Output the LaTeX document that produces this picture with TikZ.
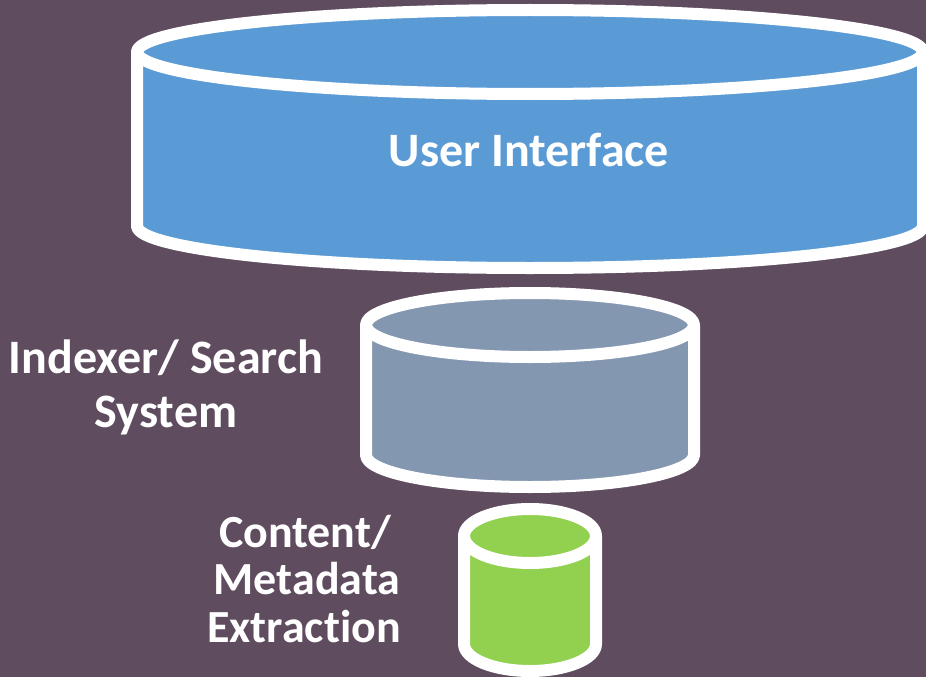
\documentclass[tikz,border=0pt]{standalone}
\usepackage{fontspec}
\setmainfont{Carlito}[Ligatures={NoCommon}]
\definecolor{bg}{HTML}{5F4C5F}
\definecolor{uiblue}{HTML}{5B9BD5}
\definecolor{idxgray}{HTML}{8497B0}
\definecolor{extgreen}{HTML}{92D050}
\tikzset{
  cylline/.style={draw=white,line width=12pt,line join=round},
  lbl/.style={text=white,font=\bfseries,anchor=base,inner sep=0pt},
}
\newcommand\mycyl[6]{%
  \fill[#6] (#1-#4,#2) -- (#1-#4,#3) arc[start angle=180,end angle=360,x radius=#4pt,y radius=#5pt]
     -- (#1+#4,#2) arc[start angle=0,end angle=180,x radius=#4pt,y radius=#5pt] -- cycle;
  \draw[cylline] (#1-#4,#2) -- (#1-#4,#3) arc[start angle=180,end angle=360,x radius=#4pt,y radius=#5pt] -- (#1+#4,#2);
  \draw[cylline] (#1,#2) ellipse [x radius=#4pt, y radius=#5pt];
}
\begin{document}
\begin{tikzpicture}[x=1pt,y=-1pt]
\fill[bg] (0,0) rectangle (926,677);
\useasboundingbox (0,0) rectangle (926,677);
\mycyl{530}{52}{226}{393}{42}{uiblue}
\mycyl{530}{325}{455}{164}{32}{idxgray}
\mycyl{530}{536}{644}{66}{27}{extgreen}
\node[lbl,font=\bfseries\fontsize{48}{54}\selectfont] (ui) at (529,166) {User Interface};
\node[lbl,font=\bfseries\fontsize{48}{54}\selectfont] (idx1) at (166,373) {Indexer/ Search};
\node[lbl,font=\bfseries\fontsize{48}{54}\selectfont] (idx2) at (166,427) {System};
\node[lbl,font=\bfseries\fontsize{46}{48}\selectfont] (ext1) at (305,547) {Content/};
\node[lbl,font=\bfseries\fontsize{46}{48}\selectfont] (ext2) at (307,594) {Metadata};
\node[lbl,font=\bfseries\fontsize{46}{48}\selectfont] (ext3) at (304,642) {Extraction};
\end{tikzpicture}
\end{document}
